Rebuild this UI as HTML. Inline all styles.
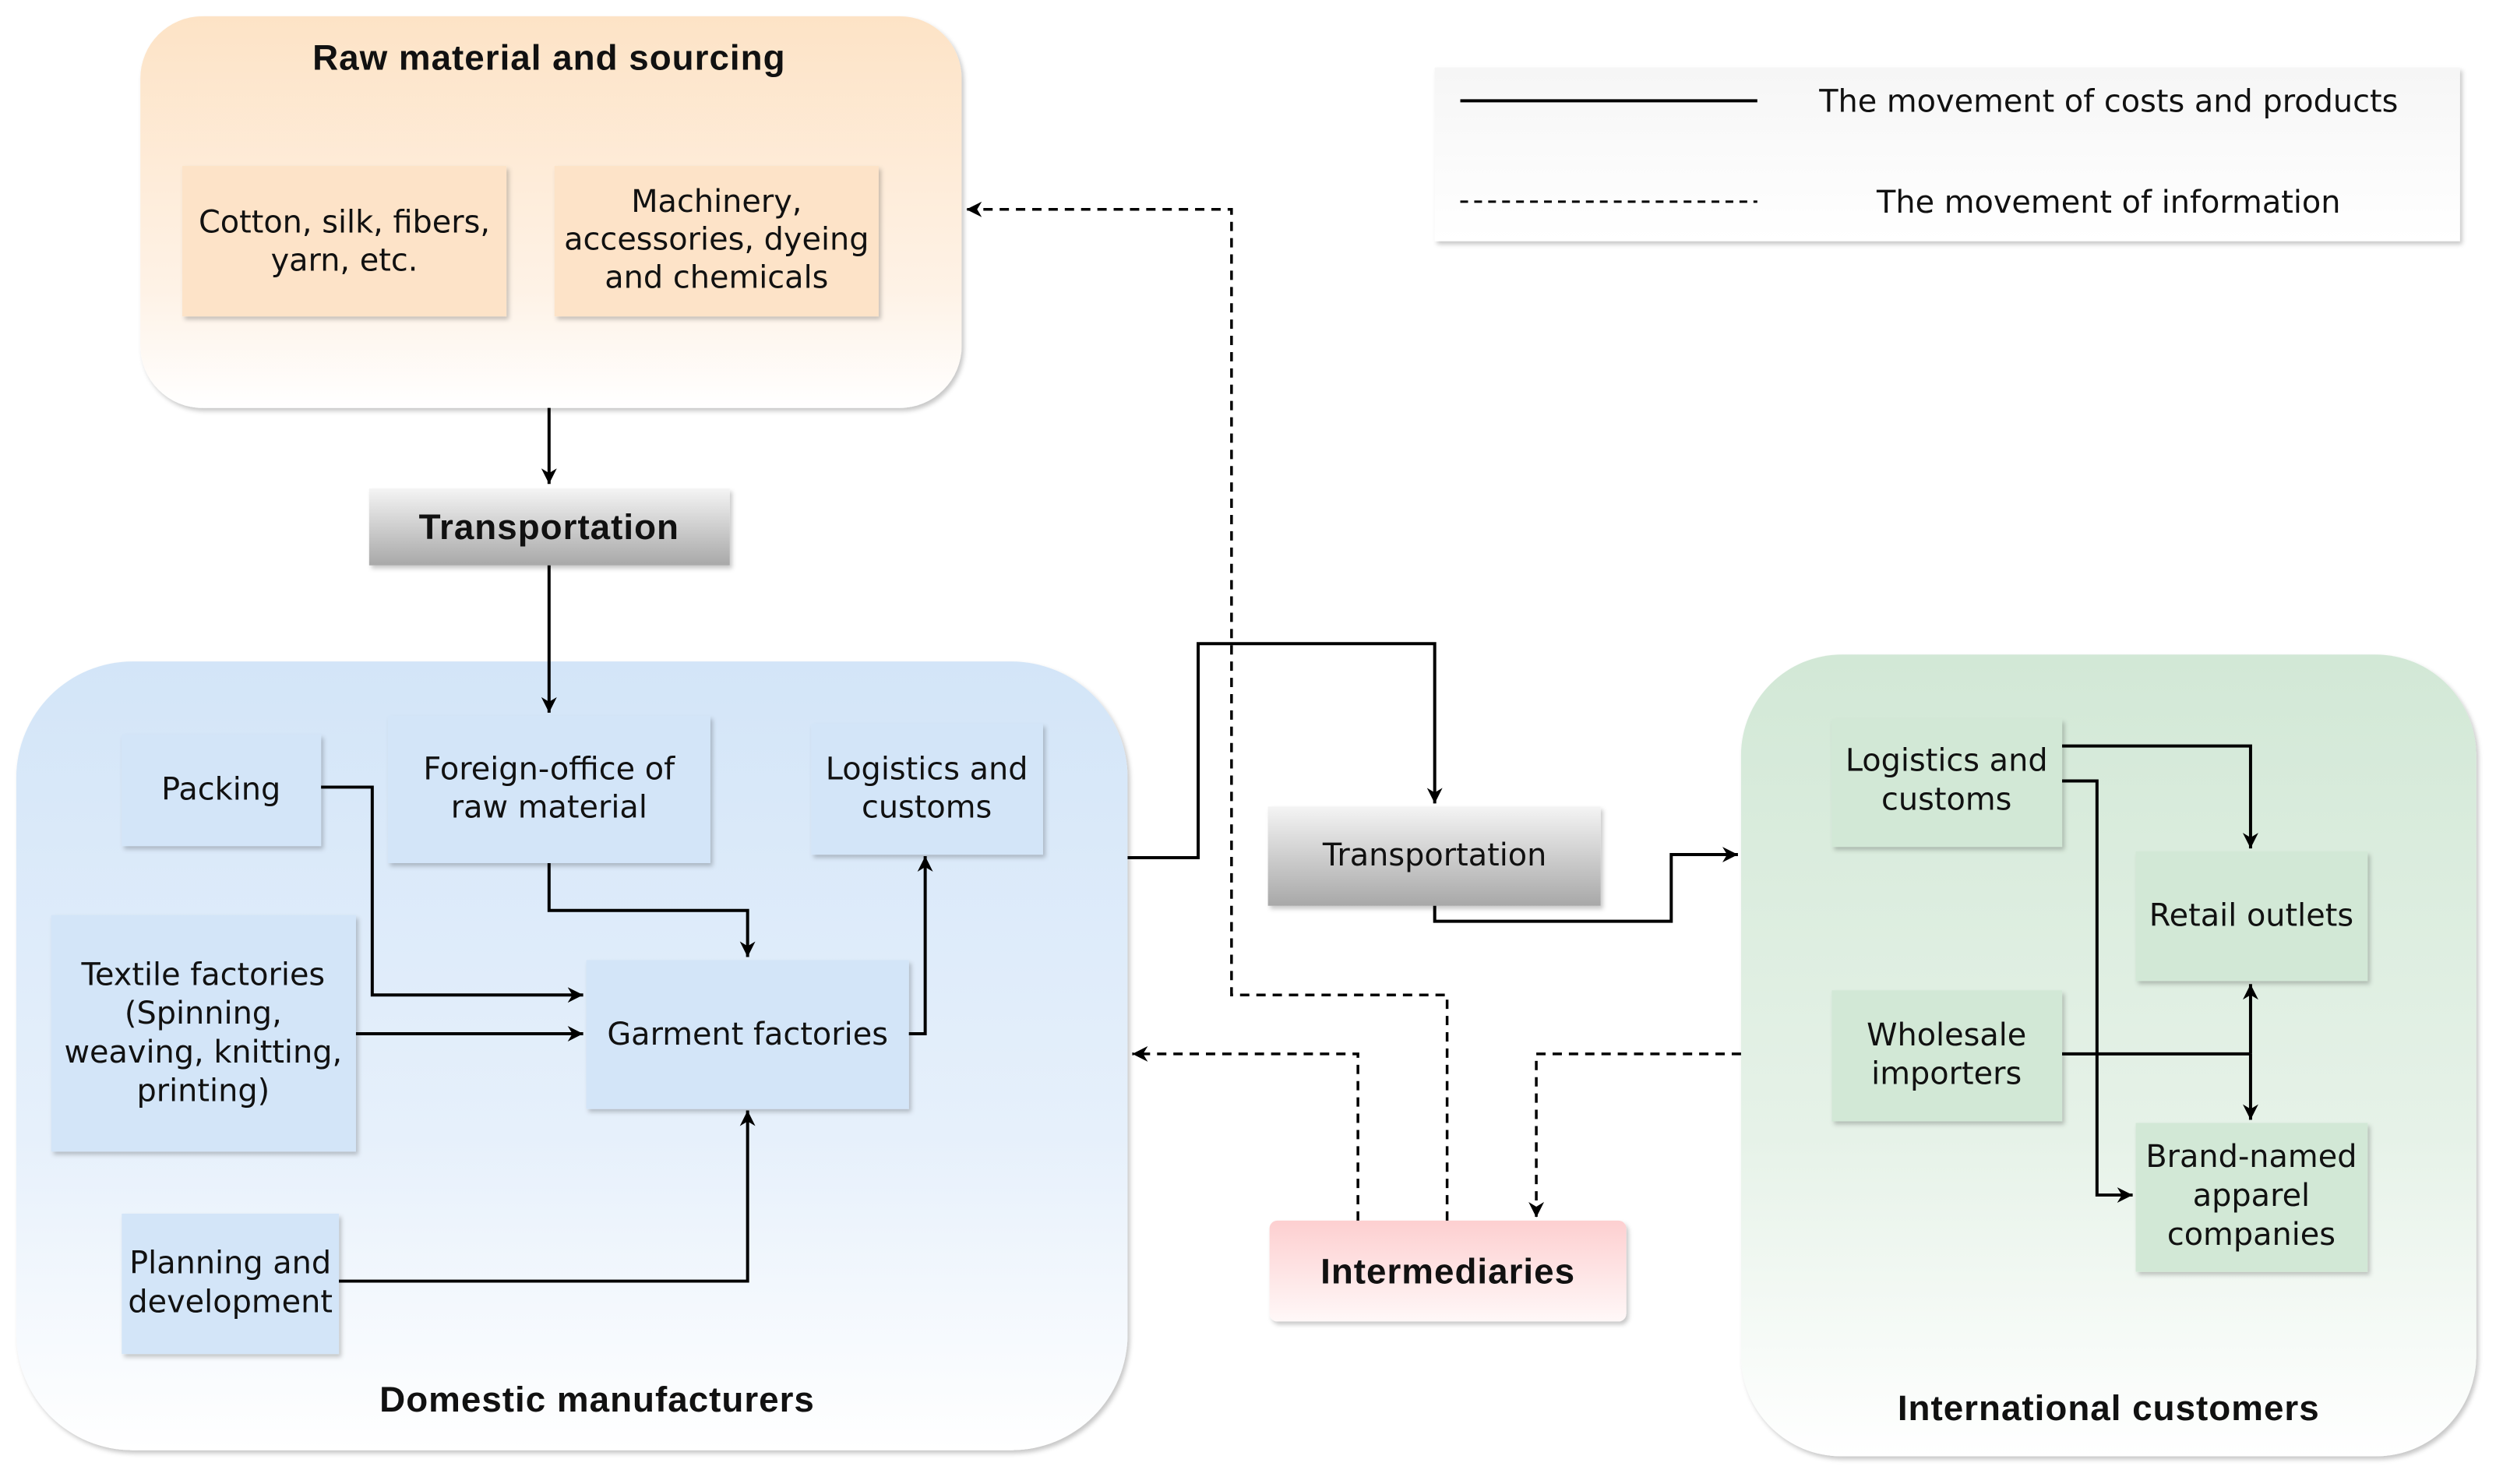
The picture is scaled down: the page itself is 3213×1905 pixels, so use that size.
<!DOCTYPE html>
<html><head><meta charset="utf-8"><style>
html,body{margin:0;padding:0;background:#fff;}
svg{display:block;}
text{font-family:"DejaVu Sans","Liberation Sans",sans-serif;fill:#111;}
.r{font-size:40px;}
.b{font-family:"Liberation Sans",sans-serif;font-size:46px;font-weight:bold;letter-spacing:1px;}
</style></head><body>
<svg width="3213" height="1905" viewBox="0 0 3213 1905" xmlns="http://www.w3.org/2000/svg">
<defs>
<linearGradient id="gO" x1="0" y1="0" x2="0" y2="1"><stop offset="0" stop-color="#fde3c6"/><stop offset="0.7" stop-color="#fef2e6"/><stop offset="1" stop-color="#ffffff"/></linearGradient>
<linearGradient id="gB" x1="0" y1="0" x2="0" y2="1"><stop offset="0" stop-color="#d3e5f8"/><stop offset="0.6" stop-color="#e6f0fb"/><stop offset="1" stop-color="#ffffff"/></linearGradient>
<linearGradient id="gG" x1="0" y1="0" x2="0" y2="1"><stop offset="0" stop-color="#d2e8d6"/><stop offset="0.6" stop-color="#e6f2e8"/><stop offset="1" stop-color="#ffffff"/></linearGradient>
<linearGradient id="gGr" x1="0" y1="0" x2="0" y2="1"><stop offset="0" stop-color="#f4f4f4"/><stop offset="1" stop-color="#a8a8a8"/></linearGradient>
<linearGradient id="gP" x1="0" y1="0" x2="0" y2="1"><stop offset="0" stop-color="#fdcfd0"/><stop offset="1" stop-color="#fff8f8"/></linearGradient>
<linearGradient id="gL" x1="0" y1="0" x2="0" y2="1"><stop offset="0" stop-color="#f6f6f6"/><stop offset="1" stop-color="#ffffff"/></linearGradient>
<filter id="sh" x="-5%" y="-5%" width="110%" height="115%"><feDropShadow dx="3" dy="4" stdDeviation="3" flood-color="#000" flood-opacity="0.22"/></filter>
<marker id="a2" viewBox="0 0 10 10" refX="10" refY="5" markerWidth="20" markerHeight="20" markerUnits="userSpaceOnUse" orient="auto"><path d="M0,0 L10,5 L0,10 L3,5 z" fill="#000"/></marker>
</defs>
<g transform="scale(0.9955)">
<!-- Legend -->
<rect x="1850" y="87" width="1322" height="224" fill="url(#gL)" filter="url(#sh)"/>
<line x1="1883" y1="130" x2="2266" y2="130" stroke="#000" stroke-width="4"/>
<line x1="1883" y1="260" x2="2266" y2="260" stroke="#000" stroke-width="3" stroke-dasharray="10,8"/>
<text class="r" x="2719" y="144" text-anchor="middle">The movement of costs and products</text>
<text class="r" x="2719" y="274" text-anchor="middle">The movement of information</text>

<!-- Raw material -->
<rect x="181" y="21" width="1059" height="505" rx="80" fill="url(#gO)" filter="url(#sh)"/>
<text class="b" x="708" y="90" text-anchor="middle">Raw material and sourcing</text>
<rect x="235" y="214" width="418" height="194" fill="#fde3c8" filter="url(#sh)"/>
<text class="r" x="444" y="300" text-anchor="middle">Cotton, silk, fibers,</text>
<text class="r" x="444" y="349" text-anchor="middle">yarn, etc.</text>
<rect x="715" y="214" width="418" height="194" fill="#fde3c8" filter="url(#sh)"/>
<text class="r" x="924" y="273" text-anchor="middle">Machinery,</text>
<text class="r" x="924" y="322" text-anchor="middle">accessories, dyeing</text>
<text class="r" x="924" y="371" text-anchor="middle">and chemicals</text>

<!-- Transportation 1 -->
<rect x="476" y="630" width="465" height="99" fill="url(#gGr)" filter="url(#sh)"/>
<text class="b" x="708" y="695" text-anchor="middle">Transportation</text>

<!-- Blue box -->
<rect x="21" y="853" width="1433" height="1017" rx="150" fill="url(#gB)" filter="url(#sh)"/>
<rect x="157" y="947" width="257" height="144" fill="#d3e5f8" filter="url(#sh)"/>
<text class="r" x="285" y="1031" text-anchor="middle">Packing</text>
<rect x="500" y="923" width="416" height="190" fill="#d3e5f8" filter="url(#sh)"/>
<text class="r" x="708" y="1005" text-anchor="middle">Foreign-office of</text>
<text class="r" x="708" y="1054" text-anchor="middle">raw material</text>
<rect x="1046" y="933" width="299" height="169" fill="#d3e5f8" filter="url(#sh)"/>
<text class="r" x="1195" y="1005" text-anchor="middle">Logistics and</text>
<text class="r" x="1195" y="1054" text-anchor="middle">customs</text>
<rect x="66" y="1180" width="393" height="305" fill="#d3e5f8" filter="url(#sh)"/>
<text class="r" x="262" y="1270" text-anchor="middle">Textile factories</text>
<text class="r" x="262" y="1320" text-anchor="middle">(Spinning,</text>
<text class="r" x="262" y="1370" text-anchor="middle">weaving, knitting,</text>
<text class="r" x="262" y="1420" text-anchor="middle">printing)</text>
<rect x="756" y="1238" width="416" height="192" fill="#d3e5f8" filter="url(#sh)"/>
<text class="r" x="964" y="1347" text-anchor="middle">Garment factories</text>
<rect x="157" y="1565" width="280" height="181" fill="#d3e5f8" filter="url(#sh)"/>
<text class="r" x="297" y="1642" text-anchor="middle">Planning and</text>
<text class="r" x="297" y="1692" text-anchor="middle">development</text>
<text class="b" x="770" y="1820" text-anchor="middle">Domestic manufacturers</text>

<!-- Transportation 2 -->
<rect x="1635" y="1040" width="429" height="128" fill="url(#gGr)" filter="url(#sh)"/>
<text class="r" x="1850" y="1116" text-anchor="middle">Transportation</text>

<!-- Green box -->
<rect x="2245" y="844" width="948" height="1034" rx="130" fill="url(#gG)" filter="url(#sh)"/>
<rect x="2362" y="927" width="297" height="165" fill="#d2e8d6" filter="url(#sh)"/>
<text class="r" x="2510" y="994" text-anchor="middle">Logistics and</text>
<text class="r" x="2510" y="1044" text-anchor="middle">customs</text>
<rect x="2754" y="1098" width="299" height="167" fill="#d2e8d6" filter="url(#sh)"/>
<text class="r" x="2903" y="1194" text-anchor="middle">Retail outlets</text>
<rect x="2362" y="1277" width="297" height="169" fill="#d2e8d6" filter="url(#sh)"/>
<text class="r" x="2510" y="1348" text-anchor="middle">Wholesale</text>
<text class="r" x="2510" y="1398" text-anchor="middle">importers</text>
<rect x="2754" y="1448" width="299" height="192" fill="#d2e8d6" filter="url(#sh)"/>
<text class="r" x="2903" y="1505" text-anchor="middle">Brand-named</text>
<text class="r" x="2903" y="1555" text-anchor="middle">apparel</text>
<text class="r" x="2903" y="1605" text-anchor="middle">companies</text>
<text class="b" x="2719" y="1831" text-anchor="middle">International customers</text>

<!-- Intermediaries -->
<rect x="1637" y="1574" width="460" height="130" rx="10" fill="url(#gP)" filter="url(#sh)"/>
<text class="b" x="1867" y="1655" text-anchor="middle">Intermediaries</text>

<!-- Solid connectors -->
<g fill="none" stroke="#000" stroke-width="4">
<path d="M708,526 V624" marker-end="url(#a2)"/>
<path d="M708,729 V919" marker-end="url(#a2)"/>
<path d="M414,1015 H480 V1283 H752" marker-end="url(#a2)"/>
<path d="M459,1333 H752" marker-end="url(#a2)"/>
<path d="M708,1113 V1174 H964 V1234" marker-end="url(#a2)"/>
<path d="M1172,1333 H1193 V1104" marker-end="url(#a2)"/>
<path d="M437,1652 H964 V1432" marker-end="url(#a2)"/>
<path d="M1454,1106 H1545 V830 H1850 V1036" marker-end="url(#a2)"/>
<path d="M1850,1168 V1188 H2155 V1102 H2241" marker-end="url(#a2)"/>
<path d="M2659,962 H2902 V1094" marker-end="url(#a2)"/>
<path d="M2659,1007 H2704 V1541 H2750" marker-end="url(#a2)"/>
<path d="M2659,1359 H2902"/>
<path d="M2902,1359 V1269" marker-end="url(#a2)"/>
<path d="M2902,1359 V1444" marker-end="url(#a2)"/>
</g>

<!-- Dashed connectors -->
<g fill="none" stroke="#000" stroke-width="3.5" stroke-dasharray="12,9">
<path d="M1866,1574 V1283 H1588 V270 H1246" marker-end="url(#a2)"/>
<path d="M1751,1574 V1359 H1460" marker-end="url(#a2)"/>
<path d="M2245,1359 H1981 V1570" marker-end="url(#a2)"/>
</g>
</g>
</svg>
</body></html>
